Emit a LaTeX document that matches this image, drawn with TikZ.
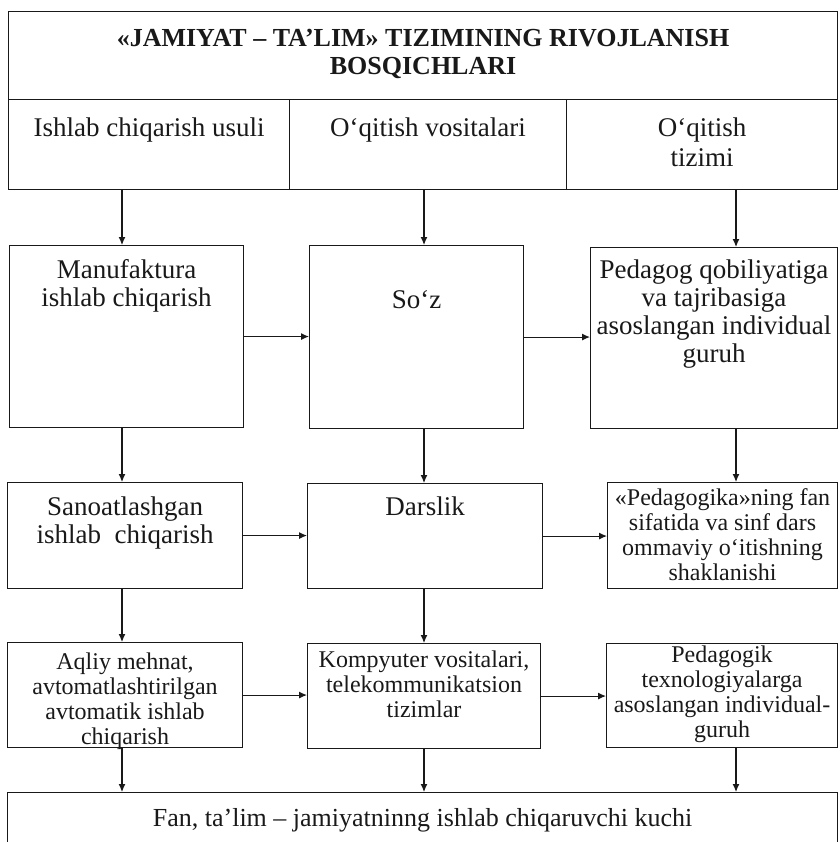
\documentclass[tikz,border=0pt]{standalone}
\usepackage{fontspec}
\setmainfont{Liberation Serif}
\usetikzlibrary{arrows.meta}
% width, height, top gap, text
\newcommand{\inbox}[4]{\parbox[c][#2pt][t]{#1pt}{\vspace*{#3pt}\centering\strut #4}}
\tikzset{
  stage/.style={draw, anchor=north west, inner sep=0pt, line width=1.1pt},
  bigtext/.style={font=\fontsize{27}{28}\selectfont},
  smalltext/.style={font=\fontsize{24}{25}\selectfont},
  arr/.style={-{Latex[length=8pt,width=7pt]}, line width=1.1pt},
}
\begin{document}
\begin{tikzpicture}[x=1pt,y=-1pt,color=black!90]
\useasboundingbox (0,0) rectangle (839,842);
% title and header row
\node[stage,font=\bfseries\fontsize{26}{28}\selectfont] (T) at (8,11) {\inbox{829}{88}{15}{«JAMIYAT – TA’LIM» TIZIMINING RIVOJLANISH\\ BOSQICHLARI}};
\node[stage,font=\fontsize{27}{30}\selectfont] (H1) at (8,99) {\inbox{281}{90}{16}{Ishlab chiqarish usuli}};
\node[stage,font=\fontsize{27}{30}\selectfont] (H2) at (289,99) {\inbox{277}{90}{16}{O‘qitish vositalari}};
\node[stage,font=\fontsize{27}{30}\selectfont] (H3) at (566,99) {\inbox{271}{90}{16}{O‘qitish\\ tizimi}};
% first row
\node[stage,bigtext] (L1) at (9,245) {\inbox{234}{182}{13}{Manufaktura\\ ishlab chiqarish}};
\node[stage,bigtext] (M1) at (309,245) {\inbox{214}{183}{43}{So‘z}};
\node[stage,bigtext] (R1) at (590,247) {\inbox{247}{181}{11}{Pedagog qobiliyatiga\\ va tajribasiga\\ asoslangan individual\\ guruh}};
% second row
\node[stage,bigtext] (L2) at (7,482) {\inbox{235}{106}{13}{Sanoatlashgan\\ ishlab\ \ chiqarish}};
\node[stage,bigtext] (M2) at (307,483) {\inbox{235}{105}{12}{Darslik}};
\node[stage,smalltext] (R2) at (607,482) {\inbox{230}{106}{5}{«Pedagogika»ning fan\\ sifatida va sinf dars\\ ommaviy o‘itishning\\ shaklanishi}};
% third row
\node[stage,smalltext] (L3) at (7,642) {\inbox{235}{105}{9}{Aqliy mehnat,\\ avtomatlashtirilgan\\ avtomatik ishlab\\ chiqarish}};
\node[stage,smalltext] (M3) at (307,643) {\inbox{233}{105}{6}{Kompyuter vositalari,\\ telekommunikatsion\\ tizimlar}};
\node[stage,smalltext] (R3) at (606,643) {\inbox{231}{104}{1}{Pedagogik\\ texnologiyalarga\\ asoslangan individual-\\ guruh}};
\node[stage,font=\fontsize{26}{28}\selectfont] (B) at (7,792) {\inbox{830}{60}{14}{Fan, ta’lim – jamiyatninng ishlab chiqaruvchi kuchi}};
% arrows
\coordinate (cA) at (122,0);
\coordinate (cB) at (424,0);
\coordinate (cC) at (736,0);
\foreach \a/\b/\c in {H1/L1/cA,H2/M1/cB,H3/R1/cC,L1/L2/cA,M1/M2/cB,R1/R2/cC,L2/L3/cA,M2/M3/cB,L3/B/cA,M3/B/cB,R3/B/cC}
  \draw[arr] (\a.south -| \c) -- (\b.north -| \c);
\foreach \a/\b in {L1/M1,M1/R1,L2/M2,M2/R2,L3/M3,M3/R3}
  \draw[arr] (\a.east) -- (\a.east -| \b.west);
\end{tikzpicture}
\end{document}
